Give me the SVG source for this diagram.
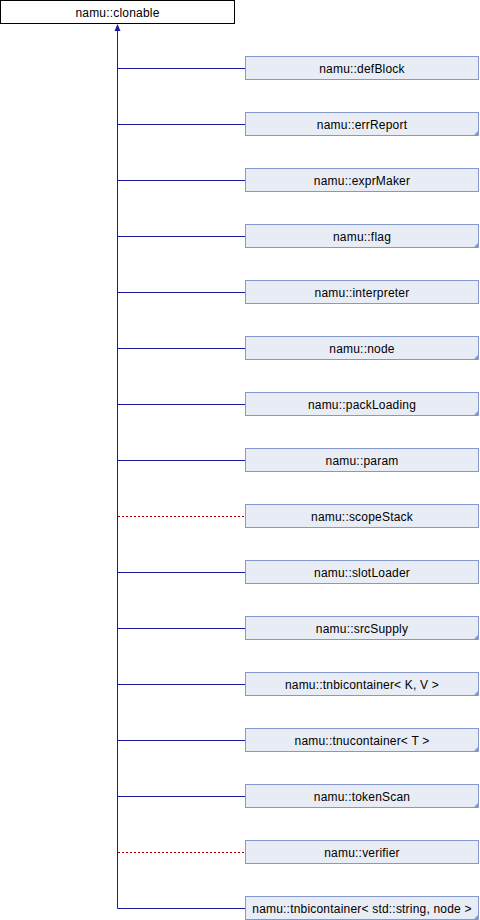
<svg xmlns="http://www.w3.org/2000/svg" width="480" height="920" viewBox="0 0 480 920">
<style>
.bg{fill:#ffffff}
.root rect{fill:#ffffff;stroke:#000000;stroke-width:1}
.cls rect{fill:#e8ecf5;stroke:#8498cc;stroke-width:1}
.cls polygon{fill:#8498cc}
text{font-family:"Liberation Sans",Arial,sans-serif;font-size:12px;letter-spacing:0.2px;fill:#000000;text-anchor:middle}
.pub{stroke:#1c1c9c;stroke-width:1;fill:none}
.prot{stroke:#a00000;stroke-width:1;fill:none;stroke-dasharray:2,2}
</style>
<rect class="bg" x="0" y="0" width="480" height="920"/>
<g id="connectors">
<line class="pub" x1="117.5" y1="30" x2="117.5" y2="908.5"/>
<polygon points="117.5,24 114.5,31 120.5,31" fill="#1c1c9c"/>
<line class="pub" x1="117.5" y1="68.5" x2="245" y2="68.5"/>
<line class="pub" x1="117.5" y1="124.5" x2="245" y2="124.5"/>
<line class="pub" x1="117.5" y1="180.5" x2="245" y2="180.5"/>
<line class="pub" x1="117.5" y1="236.5" x2="245" y2="236.5"/>
<line class="pub" x1="117.5" y1="292.5" x2="245" y2="292.5"/>
<line class="pub" x1="117.5" y1="348.5" x2="245" y2="348.5"/>
<line class="pub" x1="117.5" y1="404.5" x2="245" y2="404.5"/>
<line class="pub" x1="117.5" y1="460.5" x2="245" y2="460.5"/>
<line class="prot" x1="118" y1="516.5" x2="245" y2="516.5"/>
<line class="pub" x1="117.5" y1="572.5" x2="245" y2="572.5"/>
<line class="pub" x1="117.5" y1="628.5" x2="245" y2="628.5"/>
<line class="pub" x1="117.5" y1="684.5" x2="245" y2="684.5"/>
<line class="pub" x1="117.5" y1="740.5" x2="245" y2="740.5"/>
<line class="pub" x1="117.5" y1="796.5" x2="245" y2="796.5"/>
<line class="prot" x1="118" y1="852.5" x2="245" y2="852.5"/>
<line class="pub" x1="117.5" y1="908.5" x2="245" y2="908.5"/>
</g>
<g id="clonable" class="root"><rect x="0.5" y="0.5" width="234" height="23"/><text x="117.5" y="17">namu::clonable</text></g>
<g id="defBlock" class="cls"><rect x="245.5" y="56.5" width="233" height="23"/><text x="362" y="72.5">namu::defBlock</text></g>
<g id="errReport" class="cls"><rect x="245.5" y="112.5" width="233" height="23"/><polygon points="479,130 479,136 473,136"/><text x="362" y="128.5">namu::errReport</text></g>
<g id="exprMaker" class="cls"><rect x="245.5" y="168.5" width="233" height="23"/><text x="362" y="184.5">namu::exprMaker</text></g>
<g id="flag" class="cls"><rect x="245.5" y="224.5" width="233" height="23"/><polygon points="479,242 479,248 473,248"/><text x="362" y="240.5">namu::flag</text></g>
<g id="interpreter" class="cls"><rect x="245.5" y="280.5" width="233" height="23"/><text x="362" y="296.5">namu::interpreter</text></g>
<g id="node" class="cls"><rect x="245.5" y="336.5" width="233" height="23"/><polygon points="479,354 479,360 473,360"/><text x="362" y="352.5">namu::node</text></g>
<g id="packLoading" class="cls"><rect x="245.5" y="392.5" width="233" height="23"/><polygon points="479,410 479,416 473,416"/><text x="362" y="408.5">namu::packLoading</text></g>
<g id="param" class="cls"><rect x="245.5" y="448.5" width="233" height="23"/><text x="362" y="464.5">namu::param</text></g>
<g id="scopeStack" class="cls"><rect x="245.5" y="504.5" width="233" height="23"/><text x="362" y="520.5">namu::scopeStack</text></g>
<g id="slotLoader" class="cls"><rect x="245.5" y="560.5" width="233" height="23"/><text x="362" y="576.5">namu::slotLoader</text></g>
<g id="srcSupply" class="cls"><rect x="245.5" y="616.5" width="233" height="23"/><polygon points="479,634 479,640 473,640"/><text x="362" y="632.5">namu::srcSupply</text></g>
<g id="tnbicontainerKV" class="cls"><rect x="245.5" y="672.5" width="233" height="23"/><polygon points="479,690 479,696 473,696"/><text x="362" y="688.5">namu::tnbicontainer&lt; K, V &gt;</text></g>
<g id="tnucontainerT" class="cls"><rect x="245.5" y="728.5" width="233" height="23"/><polygon points="479,746 479,752 473,752"/><text x="362" y="744.5">namu::tnucontainer&lt; T &gt;</text></g>
<g id="tokenScan" class="cls"><rect x="245.5" y="784.5" width="233" height="23"/><polygon points="479,802 479,808 473,808"/><text x="362" y="800.5">namu::tokenScan</text></g>
<g id="verifier" class="cls"><rect x="245.5" y="840.5" width="233" height="23"/><text x="362" y="856.5">namu::verifier</text></g>
<g id="tnbicontainerStringNode" class="cls"><rect x="245.5" y="896.5" width="233" height="23"/><polygon points="479,914 479,920 473,920"/><text x="362" y="912.5">namu::tnbicontainer&lt; std::string, node &gt;</text></g>
</svg>
